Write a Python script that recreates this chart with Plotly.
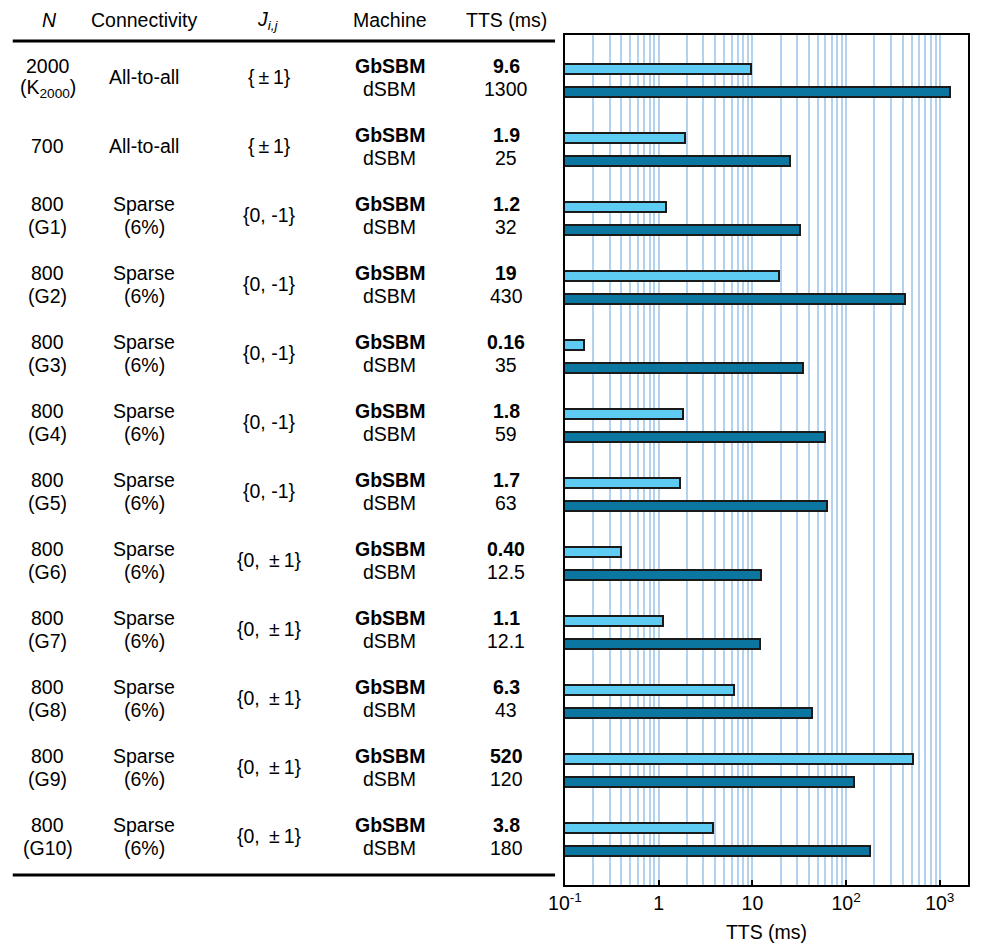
import plotly.graph_objects as go

# ---------------- data ----------------
n_top = ["2000", "700", "800", "800", "800", "800", "800", "800", "800", "800", "800", "800"]
n_bottom = ["(K<sub>2000</sub>)", "", "(G1)", "(G2)", "(G3)", "(G4)", "(G5)", "(G6)", "(G7)", "(G8)", "(G9)", "(G10)"]
conn_top = ["All-to-all", "All-to-all", "Sparse", "Sparse", "Sparse", "Sparse", "Sparse", "Sparse", "Sparse", "Sparse", "Sparse", "Sparse"]
conn_bottom = ["", "", "(6%)", "(6%)", "(6%)", "(6%)", "(6%)", "(6%)", "(6%)", "(6%)", "(6%)", "(6%)"]
j_values = ["{\u2009±\u20091}", "{\u2009±\u20091}", "{0, -1}", "{0, -1}", "{0, -1}", "{0, -1}", "{0, -1}",
            "{0, \u2009±\u20091}", "{0, \u2009±\u20091}", "{0, \u2009±\u20091}", "{0, \u2009±\u20091}", "{0, \u2009±\u20091}"]
machines = ["GbSBM", "dSBM"]
gbsbm_tts = [9.6, 1.9, 1.2, 19, 0.16, 1.8, 1.7, 0.40, 1.1, 6.3, 520, 3.8]
dsbm_tts = [1300, 25, 32, 430, 35, 59, 63, 12.5, 12.1, 43, 120, 180]
gbsbm_text = ["9.6", "1.9", "1.2", "19", "0.16", "1.8", "1.7", "0.40", "1.1", "6.3", "520", "3.8"]
dsbm_text = ["1300", "25", "32", "430", "35", "59", "63", "12.5", "12.1", "43", "120", "180"]
headers = ["<i>N</i>", "Connectivity", "<i>J</i><sub><i>i,j</i></sub>", "Machine", "TTS (ms)"]
major_ticks = [0.1, 1, 10, 100, 1000]
major_labels = ["10<sup>-1</sup>", "1", "10", "10<sup>2</sup>", "10<sup>3</sup>"]

# ---------------- layout constants ----------------
OFF = 8  # page body margin
W, H = 981 - OFF, 952 - OFF
L, R, T, B = 565, 970, 35, 885  # screen pixel positions of plot area
FONT = "Liberation Sans, Arial, sans-serif"
FS = 19.5
LIGHT = "#5ecbf3"
DARK = "#0b76a0"
GRID = "#b3d2f0"

def px(xpix):
    return (xpix - L) / (R - L)

ng = len(gbsbm_tts)
y_gb = [i * 3 for i in range(ng)]
y_d = [i * 3 + 1 for i in range(ng)]

fig = go.Figure()
fig.add_trace(go.Bar(x=gbsbm_tts, y=y_gb, orientation="h", width=0.43,
                     marker=dict(color=LIGHT, line=dict(color="#1a1a1a", width=2)),
                     name=machines[0], showlegend=False))
fig.add_trace(go.Bar(x=dsbm_tts, y=y_d, orientation="h", width=0.43,
                     marker=dict(color=DARK, line=dict(color="#1a1a1a", width=2)),
                     name=machines[1], showlegend=False))

minor_vals = [m * 10 ** e for e in range(-1, 4) for m in range(2, 10) if m * 10 ** e < 2000]

ann = []
def add(x, y, text, yref="y"):
    ann.append(dict(x=px(x), y=y, xref="paper", yref=yref, text=text, showarrow=False,
                    xanchor="center", yanchor="middle", font=dict(family=FONT, size=FS, color="black")))

# headers
hx = [47, 142, 267, 389, 506]
for x, h in zip(hx, headers):
    add(x, 1 + 15 / (B - T), h, yref="paper")

for i in range(ng):
    yg, yd, ym = y_gb[i], y_d[i], y_gb[i] + 0.5
    if n_bottom[i]:
        add(45, yg - 0.15, n_top[i]); add(45, yd - 0.15, n_bottom[i])
    else:
        add(45, ym - 0.15, n_top[i])
    if conn_bottom[i]:
        add(142, yg - 0.15, conn_top[i]); add(142, yd - 0.15, conn_bottom[i])
    else:
        add(142, ym - 0.15, conn_top[i])
    add(268, ym - 0.15, j_values[i])
    add(389, yg - 0.15, "<b>" + machines[0] + "</b>")
    add(389, yd - 0.15, machines[1])
    add(506, yg - 0.15, "<b>" + gbsbm_text[i] + "</b>")
    add(506, yd - 0.15, dsbm_text[i])

shapes = [
    dict(type="line", xref="paper", yref="paper", x0=px(10), x1=px(555),
         y0=1 - 6 / (B - T), y1=1 - 6 / (B - T), line=dict(color="black", width=3)),
    dict(type="line", xref="paper", yref="paper", x0=px(10), x1=px(555),
         y0=1 - 840 / (B - T), y1=1 - 840 / (B - T), line=dict(color="black", width=3)),
]

fig.update_layout(
    width=W, height=H,
    margin=dict(l=L - OFF, r=981 - R, t=T - OFF, b=952 - B),
    plot_bgcolor="white", paper_bgcolor="white",
    bargap=0, barmode="overlay",
    annotations=ann, shapes=shapes,
    font=dict(family=FONT, size=FS, color="black"),
    xaxis=dict(type="log", range=[-1, 3.30103], tickvals=major_ticks, ticktext=major_labels,
               showgrid=True, gridcolor=GRID, gridwidth=1.5,
               minor=dict(tickvals=minor_vals, showgrid=True, gridcolor=GRID, gridwidth=1.5, ticks=""),
               ticks="inside", ticklen=5, tickwidth=1.5, tickcolor="black",
               showline=True, linecolor="black", linewidth=2, mirror=True,
               zeroline=False, tickfont=dict(family=FONT, size=FS),
               title=dict(text="TTS (ms)", font=dict(family=FONT, size=FS), standoff=12)),
    yaxis=dict(range=[35.48, -1.48], showticklabels=False, ticks="", showgrid=False,
               zeroline=False, showline=True, linecolor="black", linewidth=2, mirror=True),
)

fig.write_html("out.html")
